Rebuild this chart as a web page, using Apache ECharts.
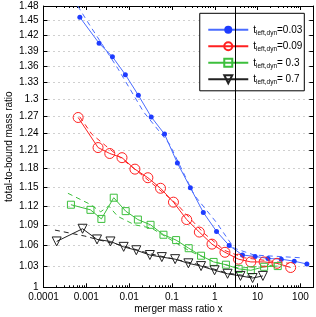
<!DOCTYPE html>
<html><head><meta charset="utf-8">
<script src="https://cdn.jsdelivr.net/npm/echarts@6/dist/echarts.min.js"></script>
<style>html,body{margin:0;padding:0;background:#fff}#c{width:316px;height:317px}</style>
</head><body><div id="c"></div>
<script>
// ---- data ----
const blueX = [0.000706,0.00199,0.00407,0.00816,0.0164,0.0328,0.067,0.134,0.269,0.54,1.10,2.17,4.43,8.75,17.5,35.7,71.8,141.6];
const blueY = [1.457,1.405,1.379,1.345,1.307,1.268,1.238,1.189,1.149,1.110,1.081,1.060,1.046,1.044,1.041,1.040,1.037,1.033];
const blueDashX = [0.00063,0.00120,0.0054,0.0217,0.0875,0.333,1.08,2.84,8.3,102.8];
const blueDashY = [1.48,1.441,1.357,1.277,1.221,1.137,1.095,1.056,1.046,1.042];

const redX = [0.000644,0.00188,0.00353,0.00681,0.01365,0.0274,0.0541,0.1084,0.221,0.436,0.861,1.73,3.57,6.95,14.2,28.4,59.2];
const redY = [1.267,1.215,1.205,1.198,1.179,1.165,1.148,1.126,1.099,1.080,1.062,1.050,1.040,1.036,1.036,1.034,1.028];
const redDashX = [0.000706,0.00134,0.00284,0.0229,0.134,0.541,1.66,4.85,54];
const redDashY = [1.268,1.238,1.218,1.166,1.122,1.079,1.053,1.042,1.034];

const greenX = [0.000437,0.00125,0.00225,0.00437,0.0083,0.0160,0.0316,0.0634,0.125,0.246,0.478,0.938,1.82,3.61,6.95,14.2,29.5];
const greenY = [1.122,1.114,1.100,1.133,1.112,1.099,1.091,1.076,1.068,1.056,1.045,1.036,1.032,1.026,1.024,1.029,1.030];
const greenDashX = [0.000372,0.00120,0.00217,0.00333,0.0054,0.0134,0.0333,0.255,0.973,3.71,31.6];
const greenDashY = [1.140,1.123,1.111,1.120,1.104,1.091,1.086,1.052,1.036,1.027,1.032];

const blackX = [0.000203,0.000817,0.00178,0.00366,0.00745,0.0147,0.0305,0.058,0.1186,0.242,0.478,0.989,1.99,3.98,7.65,13.3];
const blackY = [1.066,1.085,1.069,1.066,1.058,1.053,1.046,1.043,1.040,1.034,1.030,1.024,1.019,1.016,1.013,1.016];
const blackDashX = [0.000185,0.000923,0.00206,0.00785,0.030,0.114,0.436,1.95,8.3];
const blackDashY = [1.083,1.074,1.068,1.059,1.048,1.040,1.032,1.020,1.0145];

const seriesNames = ['0.03','0.09','0.3','0.7'];
const legendValues = ['=0.03','=0.09','= 0.3','= 0.7'];
const markerX = 3;

const xTicks = [0.0001,0.001,0.01,0.1,1,10,100];
const xTickLabels = ['0.0001','0.001','0.01','0.1','1','10','100'];
const yTicks = [1,1.03,1.06,1.09,1.12,1.15,1.18,1.21,1.24,1.27,1.3,1.33,1.36,1.39,1.42,1.45,1.48];
const yTickLabels = ['1','1.03','1.06','1.09','1.12','1.15','1.18','1.21','1.24','1.27','1.3','1.33','1.36','1.39','1.42','1.45','1.48'];
const xMinorTicks = [];
for (let e = -4; e <= 2; e++) for (let k = 2; k <= 9; k++) { const v = k * Math.pow(10, e); if (v <= 200) xMinorTicks.push(v); }

// ---- chart ----
const pairs = (xs, ys) => xs.map((x, i) => [x, ys[i]]);
const FONT = 'Liberation Sans, Arial, sans-serif';
const C = { blue: '#4a6cff', blueDot: '#1e3cff', red: '#ff2020', green: '#3cbf3c', black: '#222222' };

const chart = echarts.init(document.getElementById('c'), null, { renderer: 'canvas' });
const gridPos = { left: 43.5, right: 2.7, top: 6, bottom: 29.7, containLabel: false, outerBoundsMode: 'none' };
const xBase = { type: 'log', min: 0.0001, max: 200, gridIndex: 0, splitLine: { show: false } };
const yBase = { type: 'log', min: 1, max: 1.48, gridIndex: 0 };

function lab(i) {
  return '{t|t}{s|left,dyn}{v|' + legendValues[i] + '}';
}

const option = {
  animation: false,
  backgroundColor: '#fff',
  textStyle: { fontFamily: FONT },
  grid: gridPos,
  legend: {
    orient: 'vertical', right: 11.7, top: 13.3,
    data: seriesNames,
    backgroundColor: '#fff', borderColor: '#000', borderWidth: 1, borderRadius: 0,
    padding: [10, 2, 5, 7.5], itemWidth: 40, itemHeight: 10, itemGap: 3.5,
    formatter: (name) => lab(seriesNames.indexOf(name)),
    textStyle: {
      color: '#000', fontFamily: FONT,
      rich: {
        t: { fontSize: 10, fontFamily: FONT, color: '#000', lineHeight: 14 },
        s: { fontSize: 6.5, fontFamily: FONT, color: '#000', padding: [6, 0, 0, 0], lineHeight: 14 },
        v: { fontSize: 10, fontFamily: FONT, color: '#000', lineHeight: 14 }
      }
    }
  },
  xAxis: [
    Object.assign({}, xBase, {
      position: 'bottom',
      axisLine: { show: true, lineStyle: { color: '#000', width: 1 } },
      axisTick: { show: true, inside: true, length: 4, customValues: xTicks, lineStyle: { color: '#000' } },
      axisLabel: { show: true, customValues: xTicks, color: '#000', fontSize: 10, fontFamily: FONT, margin: 5,
        formatter: (v) => { let b = 0; xTicks.forEach((t, i) => { if (Math.abs(Math.log10(t) - Math.log10(v)) < Math.abs(Math.log10(xTicks[b]) - Math.log10(v))) b = i; }); return xTickLabels[b]; } },
      name: 'merger mass ratio x', nameLocation: 'middle', nameGap: 17, nameMoveOverlap: false,
      nameTextStyle: { color: '#000', fontSize: 10, fontFamily: FONT }
    }),
    Object.assign({}, xBase, {
      position: 'bottom',
      axisLine: { show: false }, axisLabel: { show: false },
      axisTick: { show: true, inside: true, length: 2, customValues: xMinorTicks, lineStyle: { color: '#000' } }
    }),
    Object.assign({}, xBase, {
      position: 'top',
      axisLine: { show: true, lineStyle: { color: '#000', width: 1 } }, axisLabel: { show: false },
      axisTick: { show: true, inside: true, length: 4, customValues: xTicks, lineStyle: { color: '#000' } }
    }),
    Object.assign({}, xBase, {
      position: 'top',
      axisLine: { show: false }, axisLabel: { show: false },
      axisTick: { show: true, inside: true, length: 2, customValues: xMinorTicks, lineStyle: { color: '#000' } }
    })
  ],
  yAxis: [
    Object.assign({}, yBase, {
      position: 'left',
      axisLine: { show: true, lineStyle: { color: '#000', width: 1 } },
      axisTick: { show: true, inside: true, length: 4, customValues: yTicks, lineStyle: { color: '#000' } },
      axisLabel: { show: true, customValues: yTicks, color: '#000', fontSize: 10, fontFamily: FONT, margin: 5,
        formatter: (v) => { let b = 0; yTicks.forEach((t, i) => { if (Math.abs(t - v) < Math.abs(yTicks[b] - v)) b = i; }); return yTickLabels[b]; } },
      splitLine: { show: true, lineStyle: { color: '#a0a0a0', width: 1, type: [1, 4] } },
      name: 'total-to-bound mass ratio', nameLocation: 'middle', nameGap: 29, nameMoveOverlap: false,
      nameTextStyle: { color: '#000', fontSize: 10, fontFamily: FONT }
    }),
    Object.assign({}, yBase, {
      position: 'right',
      axisLine: { show: true, lineStyle: { color: '#000', width: 1 } },
      axisTick: { show: true, inside: true, length: 4, customValues: yTicks, lineStyle: { color: '#000' } },
      axisLabel: { show: false }, splitLine: { show: false }
    })
  ],
  series: [
    { name: 'd0', type: 'line', data: pairs(blueDashX, blueDashY), symbol: 'none', lineStyle: { color: C.blue, width: 1, type: [5, 4] }, z: 2 },
    { name: 'd1', type: 'line', data: pairs(redDashX, redDashY), symbol: 'none', lineStyle: { color: C.red, width: 1, type: [5, 4] }, z: 2 },
    { name: 'd2', type: 'line', data: pairs(greenDashX, greenDashY), symbol: 'none', lineStyle: { color: C.green, width: 1, type: [5, 4] }, z: 2 },
    { name: 'd3', type: 'line', data: pairs(blackDashX, blackDashY), symbol: 'none', lineStyle: { color: C.black, width: 1, type: [5, 4] }, z: 2 },
    { name: seriesNames[0], type: 'line', data: pairs(blueX, blueY), symbol: 'circle', symbolSize: 5,
      lineStyle: { color: C.blue, width: 1 }, itemStyle: { color: C.blueDot }, z: 3,
      markLine: { silent: true, symbol: 'none', label: { show: false }, lineStyle: { color: '#000', width: 1, type: 'solid' }, data: [{ xAxis: markerX }] } },
    { name: seriesNames[1], type: 'line', data: pairs(redX, redY), symbol: 'circle', symbolSize: 10,
      lineStyle: { color: C.red, width: 1 }, itemStyle: { color: 'rgba(255,255,255,0)', borderColor: C.red, borderWidth: 1 }, z: 3 },
    { name: seriesNames[2], type: 'line', data: pairs(greenX, greenY), symbol: 'rect', symbolSize: 7,
      lineStyle: { color: C.green, width: 1 }, itemStyle: { color: 'rgba(255,255,255,0)', borderColor: C.green, borderWidth: 1 }, z: 3 },
    { name: seriesNames[3], type: 'line', data: pairs(blackX, blackY), symbol: 'triangle', symbolRotate: 180, symbolSize: 9,
      lineStyle: { color: C.black, width: 1 }, itemStyle: { color: 'rgba(255,255,255,0)', borderColor: C.black, borderWidth: 1 }, z: 3 }
  ]
};
chart.setOption(option);
</script>
</body></html>
